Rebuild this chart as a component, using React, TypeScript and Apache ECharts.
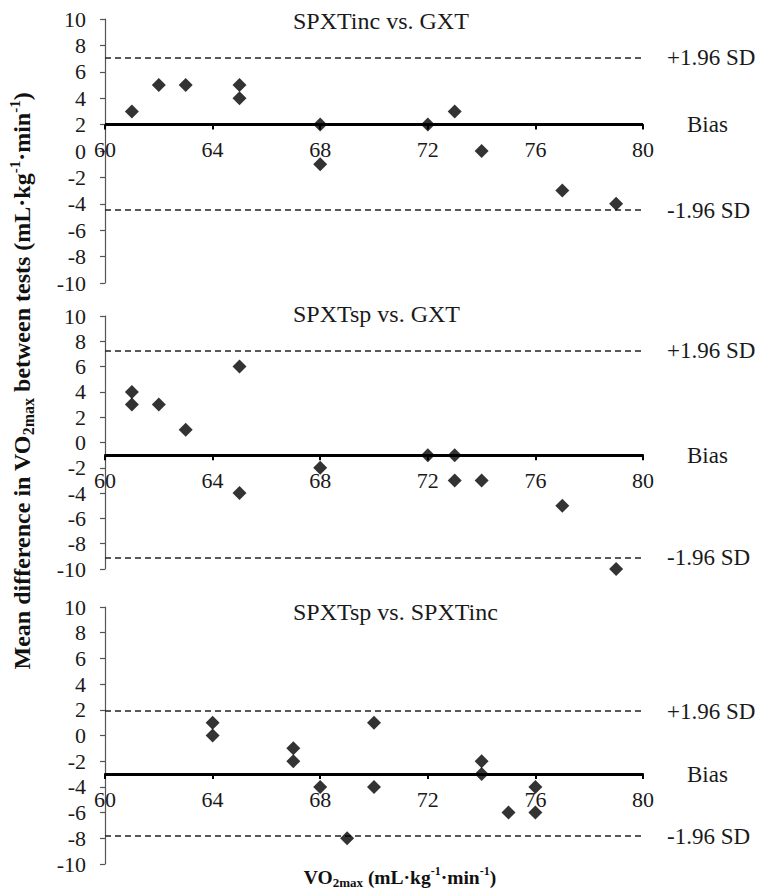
import React, { useEffect, useRef } from 'react';
import * as echarts from 'echarts';

// ---- Data ----
const panelTitles = ['SPXTinc vs. GXT', 'SPXTsp vs. GXT', 'SPXTsp vs. SPXTinc'];

const vo2Panel1 = [61, 62, 63, 65, 65, 68, 68, 72, 73, 74, 77, 79];
const diffPanel1 = [3, 5, 5, 5, 4, 2, -1, 2, 3, 0, -3, -4];

const vo2Panel2 = [61, 61, 62, 63, 65, 65, 68, 72, 73, 73, 74, 77, 79];
const diffPanel2 = [4, 3, 3, 1, 6, -4, -2, -1, -1, -3, -3, -5, -10];

const vo2Panel3 = [64, 64, 67, 67, 68, 69, 70, 70, 74, 74, 75, 76, 76];
const diffPanel3 = [1, 0, -1, -2, -4, -8, 1, -4, -2, -3, -6, -4, -6];

const biasValues = [2, -1, -3];
const upperLoA = [7.07, 7.26, 1.89];
const lowerLoA = [-4.47, -9.13, -7.83];

const lineLabels = ['+1.96 SD', 'Bias', '-1.96 SD'];

const xMin = 60;
const xMax = 80;
const xStep = 4;
const yMin = -10;
const yMax = 10;
const yStep = 2;

const xValues = [vo2Panel1, vo2Panel2, vo2Panel3];
const yValues = [diffPanel1, diffPanel2, diffPanel3];

// ---- Layout / style ----
const FONT = 'Liberation Serif, serif';
const gridBoxes = [
  { top: 19, height: 264 },
  { top: 316, height: 253 },
  { top: 607, height: 257 },
];
const titleTops = [9, 302, 600];

export default function App() {
  const ref = useRef<HTMLDivElement>(null);

  useEffect(() => {
    if (!ref.current) return;
    const chart = echarts.init(ref.current, undefined, { renderer: 'svg' });

    const grids = gridBoxes.map((g) => ({
      left: 105,
      width: 538,
      top: g.top,
      height: g.height,
    }));

    const tickText = {
      fontFamily: FONT,
      fontSize: 22,
      fontWeight: 'normal',
      fontStyle: 'normal',
      color: '#1a1a1a',
    };
    const lineText = {
      fontFamily: FONT,
      fontSize: 23,
      fontWeight: 'normal',
      fontStyle: 'normal',
      color: '#1a1a1a',
    };

    // x axis is drawn where the bias line crosses the y scale
    const xAxes = gridBoxes.map((g, i) => ({
      gridIndex: i,
      type: 'value',
      position: 'bottom',
      min: xMin,
      max: xMax,
      interval: xStep,
      offset: -((biasValues[i] - yMin) / (yMax - yMin)) * g.height,
      axisLine: {
        show: true,
        onZero: false,
        lineStyle: { color: '#000', width: 2 },
      },
      axisTick: { show: true, inside: false, length: 5, lineStyle: { color: '#000', width: 2 } },
      axisLabel: { ...tickText, margin: 14 },
      splitLine: { show: false },
    }));

    const yAxes = gridBoxes.map((_, i) => ({
      gridIndex: i,
      type: 'value',
      min: yMin,
      max: yMax,
      interval: yStep,
      axisLine: { show: true, onZero: false, lineStyle: { color: '#555', width: 1.2 } },
      axisTick: { show: true, inside: false, length: 5, lineStyle: { color: '#555', width: 1.2 } },
      axisLabel: { ...tickText, margin: 19 },
      splitLine: { show: false },
    }));

    const series = gridBoxes.map((_, i) => ({
      type: 'scatter',
      xAxisIndex: i,
      yAxisIndex: i,
      symbol: 'diamond',
      symbolSize: 14,
      itemStyle: { color: '#000' },
      z: 3,
      data: xValues[i].map((x, k) => [x, yValues[i][k]]),
      markLine: {
        silent: true,
        symbol: 'none',
        z: 1,
        label: { show: true, position: 'end', ...lineText },
        data: [
          {
            yAxis: upperLoA[i],
            lineStyle: { type: [6, 4], width: 1.5, color: '#222' },
            label: { formatter: lineLabels[0], distance: 24, ...lineText },
          },
          {
            yAxis: biasValues[i],
            lineStyle: { type: 'solid', width: 3, color: '#000' },
            label: { formatter: lineLabels[1], distance: 44, ...lineText },
          },
          {
            yAxis: lowerLoA[i],
            lineStyle: { type: [6, 4], width: 1.5, color: '#222' },
            label: { formatter: lineLabels[2], distance: 24, ...lineText },
          },
        ],
      },
    }));

    const titles = panelTitles.map((t, i) => ({
      text: t,
      left: 293,
      top: titleTops[i],
      padding: 0,
      textStyle: { fontFamily: FONT, fontSize: 24, fontWeight: 'normal', color: '#1a1a1a' },
    }));

    const rich = (size: number) => ({
      b: { fontFamily: FONT, fontSize: size, fontWeight: 'bold', fill: '#111', lineHeight: size + 5 },
      sub: {
        fontFamily: FONT,
        fontSize: Math.round(size * 0.68),
        fontWeight: 'bold',
        fill: '#111',
        lineHeight: Math.round(size * 0.68),
        verticalAlign: 'bottom',
      },
      sup: {
        fontFamily: FONT,
        fontSize: Math.round(size * 0.62),
        fontWeight: 'bold',
        fill: '#111',
        lineHeight: Math.round(size * 0.62),
        verticalAlign: 'top',
      },
    });

    const option: any = {
      animation: false,
      backgroundColor: '#fff',
      textStyle: { fontFamily: FONT },
      title: titles,
      grid: grids,
      xAxis: xAxes,
      yAxis: yAxes,
      series,
      graphic: [
        {
          type: 'text',
          x: 22,
          y: 381,
          rotation: Math.PI / 2,
          style: {
            text: '{b|Mean difference in VO}{sub|2max}{b| between tests (mL·kg}{sup|-1}{b|·min}{sup|-1}{b|)}',
            rich: rich(24),
            align: 'center',
            verticalAlign: 'middle',
          },
        },
        {
          type: 'text',
          x: 400,
          y: 877,
          style: {
            text: '{b|VO}{sub|2max}{b| (mL·kg}{sup|-1}{b|·min}{sup|-1}{b|)}',
            rich: rich(19.5),
            align: 'center',
            verticalAlign: 'middle',
          },
        },
      ],
    };

    chart.setOption(option);
    return () => chart.dispose();
  }, []);

  return (
    <div
      ref={ref}
      style={{ position: 'absolute', left: 0, top: 0, width: 760, height: 890, background: '#fff' }}
    />
  );
}
